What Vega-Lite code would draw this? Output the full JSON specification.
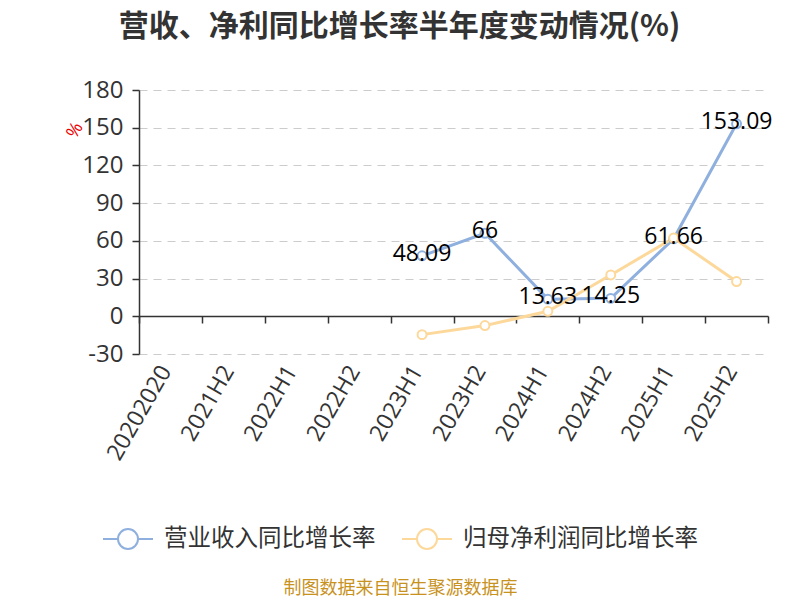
{
  "$schema": "https://vega.github.io/schema/vega-lite/v6.json",
  "width": 629,
  "height": 264,
  "autosize": "none",
  "padding": {"left": 139, "top": 90, "right": 32, "bottom": 246},
  "background": "white",
  "config": {"font": "Open Sans, Noto Sans CJK SC", "view": {"stroke": null}},
  "title": {
    "text": "营收、净利同比增长率半年度变动情况(%)",
    "font": "Noto Sans CJK SC",
    "fontSize": 30,
    "fontWeight": "bold",
    "color": "#333333",
    "anchor": "middle",
    "frame": "group",
    "dx": -54,
    "offset": 36
  },
  "data": {
    "values": [
      {"period": "2023H1", "series": "营业收入同比增长率", "value": 48.09},
      {"period": "2023H2", "series": "营业收入同比增长率", "value": 66},
      {"period": "2024H1", "series": "营业收入同比增长率", "value": 13.63},
      {"period": "2024H2", "series": "营业收入同比增长率", "value": 14.25},
      {"period": "2025H1", "series": "营业收入同比增长率", "value": 61.66},
      {"period": "2025H2", "series": "营业收入同比增长率", "value": 153.09},
      {"period": "2023H1", "series": "归母净利润同比增长率", "value": -14.6},
      {"period": "2023H2", "series": "归母净利润同比增长率", "value": -7.4},
      {"period": "2024H1", "series": "归母净利润同比增长率", "value": 4.0},
      {"period": "2024H2", "series": "归母净利润同比增长率", "value": 32.9},
      {"period": "2025H1", "series": "归母净利润同比增长率", "value": 62.3},
      {"period": "2025H2", "series": "归母净利润同比增长率", "value": 27.6}
    ]
  },
  "encoding": {
    "x": {
      "field": "period",
      "type": "nominal",
      "bandPosition": 0.5,
      "scale": {
        "type": "band",
        "domain": ["20202020", "2021H2", "2022H1", "2022H2", "2023H1", "2023H2", "2024H1", "2024H2", "2025H1", "2025H2"],
        "paddingInner": 0,
        "paddingOuter": 0
      },
      "axis": {
        "offset": -38,
        "tickBand": "extent",
        "tickSize": 7,
        "tickColor": "#333333",
        "domainColor": "#333333",
        "domainWidth": 1.5,
        "tickWidth": 1.5,
        "labelAngle": -60,
        "labelAlign": "right",
        "labelBaseline": "middle",
        "labelFontSize": 23,
        "labelColor": "#333333",
        "labelPadding": 44,
        "labelOffset": -5,
        "labelOverlap": false,
        "labelBound": false,
        "labelLimit": 0,
        "grid": false,
        "title": "制图数据来自恒生聚源数据库",
        "titleFont": "Noto Sans CJK SC",
        "titleColor": "#c8921e",
        "titleFontSize": 18,
        "titleFontWeight": "normal",
        "titleX": 261,
        "titleY": 272,
        "titleBaseline": "middle",
        "titleAnchor": null
      }
    },
    "y": {
      "field": "value",
      "type": "quantitative",
      "scale": {"domain": [-30, 180], "nice": false, "zero": false},
      "axis": {
        "values": [-30, 0, 30, 60, 90, 120, 150, 180],
        "labelExpr": "replace(datum.label, '−', '-')",
        "tickSize": 7,
        "tickColor": "#333333",
        "tickWidth": 1.5,
        "domainColor": "#333333",
        "domainWidth": 1.5,
        "labelFontSize": 24,
        "labelColor": "#333333",
        "labelPadding": 9,
        "grid": true,
        "gridColor": "#cccccc",
        "gridDash": [8, 6],
        "gridWidth": 1.2,
        "title": "%",
        "titleColor": "#ee0000",
        "titleFontSize": 18,
        "titleFontWeight": "normal",
        "titleAngle": -60,
        "titleX": -64,
        "titleY": 40,
        "titleAlign": "center",
        "titleBaseline": "middle"
      }
    }
  },
  "layer": [
    {
      "mark": {"type": "line", "strokeWidth": 3},
      "encoding": {
        "color": {
          "field": "series",
          "type": "nominal",
          "scale": {"domain": ["营业收入同比增长率", "归母净利润同比增长率"], "range": ["#8fb0de", "#fdd89b"]},
          "legend": {
            "orient": "none",
            "legendX": -37,
            "legendY": 423,
            "direction": "horizontal",
            "title": null,
            "symbolType": "M-1,0L-0.4,0M0.4,0L1,0M0.4,0A0.4,0.4,0,1,1,-0.4,0A0.4,0.4,0,1,1,0.4,0",
            "symbolSize": 2500,
            "symbolStrokeWidth": 2,
            "symbolFillColor": "white",
            "labelFont": "Noto Sans CJK SC",
            "labelFontSize": 23.5,
            "labelColor": "#333333",
            "labelOffset": 10,
            "labelLimit": 0,
            "columnPadding": 22
          }
        }
      }
    },
    {
      "mark": {"type": "point", "filled": false, "fill": "white", "size": 80, "strokeWidth": 2, "opacity": 1},
      "encoding": {
        "color": {"field": "series", "type": "nominal", "legend": null}
      }
    },
    {
      "transform": [{"filter": "datum.series === '营业收入同比增长率'"}],
      "mark": {"type": "text", "fontSize": 23, "color": "black", "baseline": "middle", "align": "center", "dy": -2},
      "encoding": {"text": {"field": "value", "type": "nominal"}}
    }
  ]
}
